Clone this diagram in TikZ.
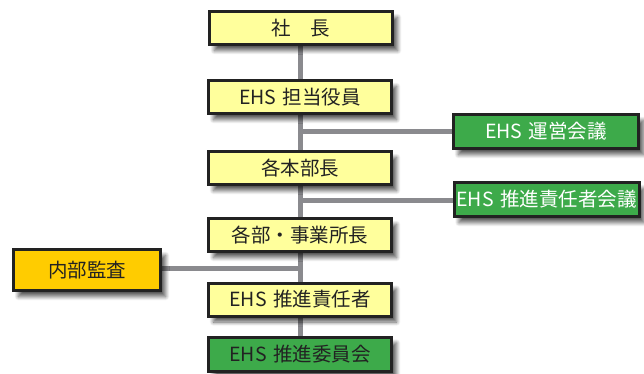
\documentclass[tikz,border=0pt]{standalone}
\usepackage{fontspec}
\setmainfont{Noto Sans CJK JP}
\usetikzlibrary{shadows.blur,backgrounds}
\definecolor{boxyellow}{HTML}{FFFF9C}
\definecolor{boxgreen}{HTML}{3DAA4A}
\definecolor{boxorange}{HTML}{FFCC00}
\definecolor{linegray}{HTML}{8A8A8E}
\definecolor{bordr}{HTML}{222222}
\newcommand{\ehs}{EHS\hspace{0.32em}}
\tikzset{
  base/.style={draw=bordr, line width=3pt, inner sep=0pt, minimum height=33pt,
    font=\fontsize{19.5}{22}\selectfont,
    blur shadow={shadow xshift=5pt, shadow yshift=-6pt, shadow blur steps=8, shadow blur radius=4pt, shadow opacity=65}},
  ybox/.style={base, fill=boxyellow, text=bordr, minimum width=183pt},
  gbox/.style={base, fill=boxgreen, text=white, minimum width=185pt, minimum height=34pt},
  obox/.style={base, fill=boxorange, text=bordr, minimum width=147pt, minimum height=41pt},
  conn/.style={draw=linegray, line width=5pt}
}
\begin{document}
\begin{tikzpicture}[x=1pt,y=-1pt]
\useasboundingbox (0,0) rectangle (644,374);
\node[ybox] (b1) at (301,28) {社　長};
\node[ybox] (b2) at (300,97) {\ehs 担当役員};
\node[ybox] (b3) at (300,168) {各本部長};
\node[ybox] (b4) at (300,235) {各部・事業所長};
\node[ybox] (b5) at (300,299.5) {\ehs 推進責任者};
\node[gbox, text=bordr, minimum width=183pt] (b6) at (300,354) {\ehs 推進委員会};
\node[gbox] (g1) at (546,131.5) {\ehs 運営会議};
\node[gbox] (g2) at (546.5,199.5) {\ehs 推進責任者会議};
\node[obox] (a1) at (87,270) {内部監査};
\coordinate (t1) at (300,132);
\coordinate (t2) at (300,200);
\coordinate (t3) at (300,268);
\begin{scope}[on background layer]
\draw[conn] (b1.south -| t1) -- (b6.north -| t1);
\draw[conn] (t1) -- (g1.west |- t1);
\draw[conn] (t2) -- (g2.west |- t2);
\draw[conn] (a1.east |- t3) -- (t3);
\end{scope}
\end{tikzpicture}
\end{document}
